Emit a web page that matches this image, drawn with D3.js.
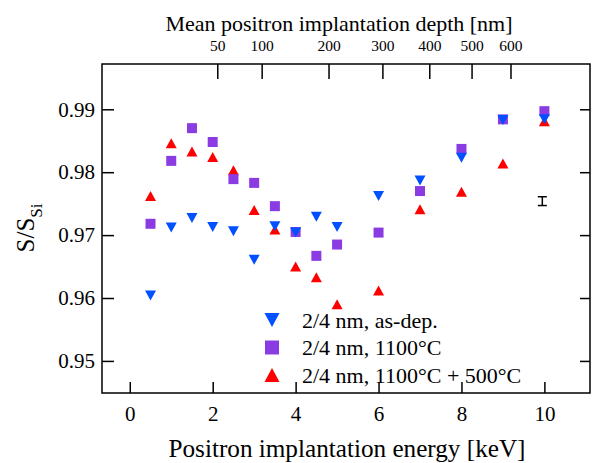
<!DOCTYPE html>
<meta charset="utf-8">
<html>
<head>
  <script src="https://d3js.org/d3.v7.min.js" charset="utf-8"></script>
</head>

<body style="margin:0; background-color:white;">
<div id="container"></div>

<script type="text/javascript">

// implantation energies [keV]
var energy = [0.5, 1, 1.5, 2, 2.5, 3, 3.5, 4, 4.5, 5, 6, 7, 8, 9, 10]

// S/S_Si per sample
var asDep    = [0.9604, 0.9712, 0.9727, 0.9713, 0.9706, 0.9661, 0.9714, 0.9704, 0.9729, 0.9713, 0.9762, 0.9787, 0.9823, 0.9883, 0.9884]
var ann1100  = [0.9718, 0.9818, 0.9870, 0.9848, 0.9789, 0.9783, 0.9746, 0.9705, 0.9667, 0.9685, 0.9704, 0.9770, 0.9837, 0.9884, 0.9897]
var ann500   = [0.9762, 0.9846, 0.9833, 0.9824, 0.9803, 0.9740, 0.9709, 0.9650, 0.9633, 0.9590, 0.9612, 0.9741, 0.9769, 0.9814, 0.9881]

var seriesNames = ["2/4 nm, as-dep.", "2/4 nm, 1100°C", "2/4 nm, 1100°C + 500°C"]

// typical error bar
var errEnergy = [9.95]
var errValue = [0.9754]
var errSize = [0.0007]

// tick labels
var xTicks = [0, 2, 4, 6, 8, 10]
var yTicks = [0.95, 0.96, 0.97, 0.98, 0.99]
var depthTicks = [50, 100, 200, 300, 400, 500, 600]

// Makhov profile: z = k * E^n  (z in nm, E in keV)
var makhovK = 14.15
var makhovN = 1.69

var serif = "'Liberation Serif', 'Times New Roman', Times, serif"

var width = 593
var height = 463
var margin = {left: 102, right: 3, top: 64, bottom: 70}

var svg = d3.select("#container")
            .append("svg")
            .attr("width", width)
            .attr("height", height)
            .style("font-family", serif)

var x = d3.scaleLinear().domain([-0.67, 11.1]).range([margin.left, width - margin.right])
var y = d3.scaleLinear().domain([0.9449, 0.9972]).range([height - margin.bottom, margin.top])

// depth scale on top: x position of depth z is x((z/k)^(1/n))
var xDepth = d3.scalePow().exponent(1 / makhovN)
               .domain([0, makhovK * Math.pow(10, makhovN)])
               .range([x(0), x(10)])

function styleAxis(g, size) {
  g.attr("font-family", serif).attr("font-size", size)
  g.selectAll("text").style("font-family", serif).style("font-size", size + "px").attr("fill", "black")
  g.selectAll(".tick line").attr("stroke", "black").attr("stroke-width", 1.5)
  g.select(".domain").remove()
}

// axes (ticks pointing inwards)
svg.append("g")
   .attr("transform", "translate(0," + (height - margin.bottom) + ")")
   .call(d3.axisBottom(x).tickValues(xTicks).tickSize(-11).tickPadding(13))
   .call(styleAxis, 21)

svg.append("g")
   .attr("transform", "translate(" + margin.left + ",0)")
   .call(d3.axisLeft(y).tickValues(yTicks).tickSize(-12).tickPadding(7).tickFormat(d3.format(".2f")))
   .call(styleAxis, 21)

svg.append("g")
   .attr("transform", "translate(" + (width - margin.right) + ",0)")
   .call(d3.axisRight(y).tickValues(yTicks).tickSize(-10).tickFormat(""))
   .call(styleAxis, 21)

svg.append("g")
   .attr("transform", "translate(0," + margin.top + ")")
   .call(d3.axisTop(xDepth).tickValues(depthTicks).tickSize(-15).tickPadding(13))
   .call(styleAxis, 15.5)

// frame
svg.append("rect")
   .attr("x", margin.left)
   .attr("y", margin.top)
   .attr("width", width - margin.left - margin.right)
   .attr("height", height - margin.top - margin.bottom)
   .attr("fill", "none")
   .attr("stroke", "black")
   .attr("stroke-width", 1.5)

// marker shapes, centred on (0,0)
function triUp(w, h) { return "M" + (-w/2) + "," + (h/2) + "L" + (w/2) + "," + (h/2) + "L0," + (-h/2) + "Z" }
function triDown(w, h) { return "M" + (-w/2) + "," + (-h/2) + "L" + (w/2) + "," + (-h/2) + "L0," + (h/2) + "Z" }
function square(s) { return "M" + (-s/2) + "," + (-s/2) + "h" + s + "v" + s + "h" + (-s) + "Z" }

var series = [
  {name: seriesNames[2], values: ann500,  color: "#ff0000", shape: triUp(11, 10),   legend: triUp(15, 14)},
  {name: seriesNames[1], values: ann1100, color: "#8a3be2", shape: square(10),      legend: square(14)},
  {name: seriesNames[0], values: asDep,   color: "#0050ff", shape: triDown(11, 10), legend: triDown(15, 14)}
]

series.forEach(function(s) {
  svg.append("g").selectAll("path")
     .data(energy)
     .enter()
     .append("path")
     .attr("d", s.shape)
     .attr("transform", (d, i) => "translate(" + x(d) + "," + y(s.values[i]) + ")")
     .attr("fill", s.color)
})

// error bar
var eb = svg.append("g").selectAll("g").data(errEnergy).enter().append("g")
eb.append("line")
  .attr("x1", d => x(d)).attr("x2", d => x(d))
  .attr("y1", (d, i) => y(errValue[i] - errSize[i]))
  .attr("y2", (d, i) => y(errValue[i] + errSize[i]))
  .attr("stroke", "black").attr("stroke-width", 1.5)
;[-1, 1].forEach(function(sgn) {
  eb.append("line")
    .attr("x1", d => x(d) - 4.5).attr("x2", d => x(d) + 4.5)
    .attr("y1", (d, i) => y(errValue[i] + sgn * errSize[i]))
    .attr("y2", (d, i) => y(errValue[i] + sgn * errSize[i]))
    .attr("stroke", "black").attr("stroke-width", 1.5)
})

// legend
var legendRows = series.slice().reverse()
var legend = svg.append("g").attr("transform", "translate(272,320)")
legend.selectAll("path")
      .data(legendRows)
      .enter()
      .append("path")
      .attr("d", d => d.legend)
      .attr("transform", (d, i) => "translate(0," + (i * 27.5) + ")")
      .attr("fill", d => d.color)
legend.selectAll("text")
      .data(legendRows)
      .enter()
      .append("text")
      .attr("x", 30)
      .attr("y", (d, i) => i * 27.5 + 7.5)
      .style("font-family", serif)
      .style("font-size", "22px")
      .text(d => d.name)

// titles
svg.append("text")
   .attr("x", 339)
   .attr("y", 31)
   .attr("text-anchor", "middle")
   .style("font-family", serif)
   .style("font-size", "22px")
   .text("Mean positron implantation depth [nm]")

svg.append("text")
   .attr("x", 347)
   .attr("y", 457)
   .attr("text-anchor", "middle")
   .style("font-family", serif)
   .style("font-size", "25.2px")
   .text("Positron implantation energy [keV]")

var yTitle = svg.append("text")
   .attr("transform", "translate(34,228) rotate(-90)")
   .attr("text-anchor", "middle")
   .style("font-family", serif)
   .style("font-size", "25px")
yTitle.append("tspan").text("S/S")
yTitle.append("tspan").attr("dy", 8).style("font-size", "17px").text("Si")

</script>
</body>
</html>
